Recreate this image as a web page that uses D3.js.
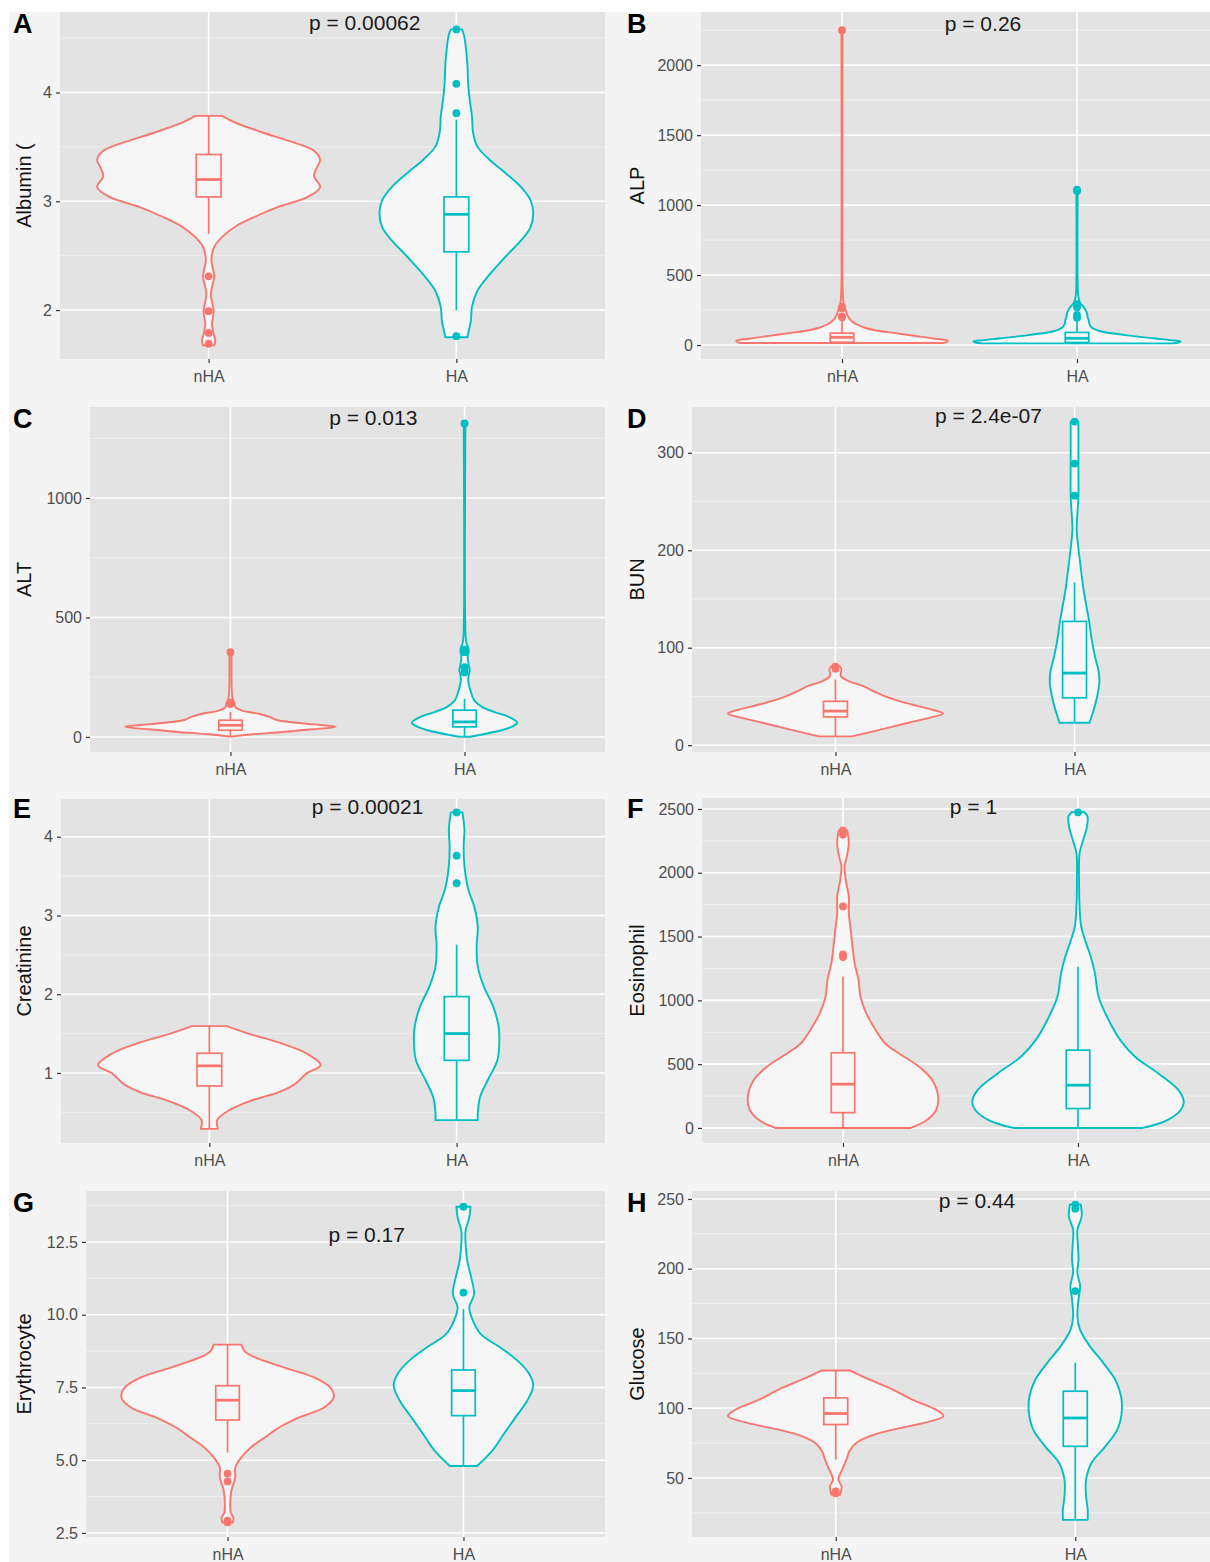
<!DOCTYPE html>
<html>
<head>
<meta charset="utf-8">
<script src="https://cdn.jsdelivr.net/npm/d3@7"></script>
<style>
  body { margin: 0; background: #fff; }
  text { font-family: "Liberation Sans", Arial, sans-serif; }
</style>
</head>
<body>
<svg id="chart" width="1210" height="1562"></svg>
<script>
// ---- data ----
var groups = ["nHA", "HA"];
var groupColors = ["#F8766D", "#00BFC4"];
var panelLetters = ["A", "B", "C", "D", "E", "F", "G", "H"];
var yTitles = ["Albumin (", "ALP", "ALT", "BUN", "Creatinine", "Eosinophil", "Erythrocyte", "Glucose"];
var pLabels = ["p = 0.00062", "p = 0.26", "p = 0.013", "p = 2.4e-07", "p = 0.00021", "p = 1", "p = 0.17", "p = 0.44"];
var pLabelX = [1.63, 1.60, 1.61, 1.64, 1.64, 1.555, 1.59, 1.59];
var pLabelY = [4.64, 2300, 1339, 338, 4.39, 2520, 12.74, 249];
var yDomains = [[1.55, 4.74], [-100, 2380], [-63, 1381], [-7, 347], [0.11, 4.48], [-118, 2586], [2.36, 14.25], [7.7, 255.7]];
var yTicks = [[2, 3, 4], [0, 500, 1000, 1500, 2000], [0, 500, 1000], [0, 100, 200, 300], [1, 2, 3, 4],
              [0, 500, 1000, 1500, 2000, 2500], [2.5, 5, 7.5, 10, 12.5], [50, 100, 150, 200, 250]];
var tickDecimals = [0, 0, 0, 0, 0, 0, 1, 0];

// box stats: [lower whisker, q1, median, q3, upper whisker]
var boxNHA = [[2.70, 3.04, 3.20, 3.43, 3.785], [12, 20, 55, 85, 180], [5, 28, 49, 70, 105], [9, 29, 35, 45, 67.5],
              [0.29, 0.835, 1.09, 1.25, 1.6], [0, 120, 343, 589, 1186], [5.26, 6.38, 7.06, 7.56, 8.97], [63.2, 88.3, 96.2, 107.4, 127]];
var boxHA = [[2.0, 2.535, 2.88, 3.04, 3.75], [12, 18, 48, 90, 180], [1, 42, 63, 112, 160], [23, 48.6, 74, 127, 167],
             [0.40, 1.16, 1.50, 1.97, 2.63], [0, 152, 335, 610, 1264], [4.80, 6.53, 7.39, 8.1, 10.19], [20, 72.7, 93, 112.2, 132.5]];
var outliersNHA = [[2.31, 1.99, 1.79, 1.69], [2250, 272, 262, 205, 198], [355, 145, 138], [80.5, 78.5],
                   [], [2332, 2300, 1736, 1361, 1340], [4.54, 4.27, 2.92, 2.86], [40.4, 39]];
var outliersHA = [[4.58, 4.08, 3.81, 1.76], [1110, 1100, 292, 280, 270, 215, 195], [1312, 365, 355, 292, 280, 270], [332, 289, 256],
                  [4.31, 3.76, 3.41], [2474], [13.71, 10.76], [246, 243, 184]];

// violin outlines: [value, relative half width]
var violinNHA = [
  [[1.675,0.05],[1.72,0.06],[1.78,0.045],[1.87,0.03],[1.99,0.045],[2.15,0.02],[2.31,0.05],[2.46,0.025],[2.58,0.05],[2.67,0.12],[2.77,0.245],[2.86,0.42],[2.95,0.63],[3.04,0.89],[3.13,1.0],[3.23,0.945],[3.31,0.97],[3.38,1.0],[3.46,0.95],[3.55,0.735],[3.63,0.49],[3.72,0.245],[3.785,0.12]],
  [[14,0.95],[22,0.99],[31,1.0],[45,0.88],[60,0.74],[83,0.52],[107,0.3],[125,0.21],[143,0.15],[160,0.11],[179,0.08],[200,0.06],[226,0.044],[260,0.03],[300,0.015],[400,0.006],[700,0.004],[1500,0.004],[2250,0.005]],
  [[2,0.02],[10,0.19],[21,0.49],[32,0.78],[43,1.0],[50,0.86],[56,0.7],[70,0.45],[84,0.37],[98,0.26],[109,0.12],[126,0.045],[140,0.04],[160,0.02],[200,0.012],[280,0.01],[355,0.01]],
  [[9,0.155],[16,0.42],[23,0.68],[28,0.87],[32.5,1.0],[37,0.88],[42,0.7],[48.6,0.5],[55,0.36],[60.6,0.26],[65.8,0.12],[71,0.05],[78,0.055],[81,0.04]],
  [[0.29,0.077],[0.40,0.07],[0.52,0.17],[0.65,0.38],[0.76,0.63],[0.86,0.77],[0.99,0.87],[1.10,1.0],[1.25,0.87],[1.37,0.66],[1.50,0.35],[1.595,0.157]],
  [[0,0.64],[60,0.79],[139,0.88],[243,0.9],[374,0.845],[479,0.72],[584,0.53],[662,0.40],[793,0.29],[898,0.22],[1029,0.165],[1160,0.147],[1290,0.11],[1421,0.09],[1552,0.073],[1683,0.055],[1814,0.055],[1945,0.026],[2050,0.015],[2128,0.037],[2233,0.055],[2332,0.04]],
  [[2.86,0.05],[3.03,0.055],[3.2,0.03],[3.49,0.025],[3.95,0.036],[4.41,0.073],[4.75,0.073],[5.09,0.128],[5.44,0.22],[5.78,0.35],[6.13,0.49],[6.47,0.675],[6.81,0.91],[7.16,1.0],[7.5,0.967],[7.84,0.82],[8.19,0.53],[8.53,0.26],[8.75,0.16],[8.97,0.13]],
  [[38,0.04],[44,0.054],[48.8,0.025],[56,0.06],[63.2,0.1],[69.1,0.126],[75.1,0.19],[79.9,0.31],[84.7,0.53],[89.5,0.82],[94.3,1.0],[99,0.93],[106.2,0.71],[113.4,0.53],[120.6,0.31],[127,0.135]]
];
var violinHA = [
  [[1.75,0.1],[1.78,0.105],[1.90,0.13],[2.03,0.14],[2.18,0.19],[2.33,0.3],[2.49,0.44],[2.64,0.58],[2.76,0.665],[2.89,0.69],[3.01,0.665],[3.13,0.58],[3.26,0.44],[3.38,0.3],[3.50,0.19],[3.63,0.15],[3.78,0.14],[3.93,0.12],[4.09,0.105],[4.24,0.1],[4.39,0.0875],[4.52,0.07],[4.58,0.05]],
  [[12,0.9],[18,0.96],[25,0.98],[35,0.88],[48,0.72],[71,0.46],[95,0.24],[115,0.16],[131,0.13],[155,0.115],[179,0.11],[200,0.1],[226,0.095],[250,0.08],[274,0.06],[300,0.03],[350,0.012],[450,0.006],[800,0.005],[1110,0.006]],
  [[1,0.05],[7,0.13],[28,0.35],[45,0.46],[60,0.5],[72,0.47],[84,0.42],[105,0.28],[126,0.165],[154,0.09],[196,0.055],[237,0.035],[260,0.04],[280,0.05],[300,0.04],[335,0.03],[363,0.04],[400,0.015],[500,0.006],[1000,0.005],[1312,0.008]],
  [[23,0.14],[30,0.16],[37,0.18],[50,0.21],[64,0.23],[75,0.225],[91,0.19],[108,0.16],[126,0.137],[143,0.11],[160,0.083],[180,0.06],[200,0.038],[221,0.02],[240,0.028],[256,0.036],[290,0.036],[332,0.036]],
  [[0.40,0.19],[0.48,0.19],[0.69,0.21],[0.91,0.28],[1.16,0.366],[1.42,0.384],[1.59,0.377],[1.84,0.33],[2.10,0.244],[2.35,0.19],[2.61,0.18],[2.86,0.19],[3.12,0.157],[3.33,0.105],[3.63,0.07],[3.88,0.063],[4.09,0.07],[4.31,0.052]],
  [[0,0.61],[60,0.84],[139,0.97],[204,1.0],[296,0.95],[427,0.76],[558,0.54],[688,0.40],[846,0.29],[1029,0.195],[1212,0.16],[1343,0.12],[1474,0.066],[1579,0.03],[1736,0.015],[1945,0.01],[2154,0.015],[2259,0.05],[2364,0.085],[2442,0.09],[2474,0.06]],
  [[4.80,0.128],[5.32,0.27],[5.90,0.38],[6.47,0.49],[7.04,0.6],[7.56,0.657],[7.96,0.62],[8.42,0.51],[8.87,0.347],[9.33,0.164],[9.79,0.09],[10.25,0.055],[10.71,0.1],[11.28,0.073],[11.85,0.036],[12.44,0.02],[12.88,0.02],[13.34,0.055],[13.71,0.066]],
  [[20,0.115],[27.3,0.115],[36.8,0.1],[48.8,0.1],[60.8,0.15],[72.7,0.28],[84.7,0.39],[96.7,0.43],[108.6,0.425],[120.6,0.37],[132.5,0.26],[144.5,0.135],[156.5,0.043],[166,0.02],[178,0.03],[187.6,0.045],[197,0.02],[206.7,0.03],[216,0.025],[228,0.02],[237.6,0.06],[246,0.05]]
];

// ---- layout ----
var frames = [
  {x: 60, y: 12, w: 545, h: 347},
  {x: 701, y: 12, w: 517, h: 347},
  {x: 90, y: 407, w: 515, h: 345},
  {x: 692, y: 407, w: 526, h: 345},
  {x: 61, y: 799, w: 544, h: 344},
  {x: 702, y: 798, w: 517, h: 345},
  {x: 86, y: 1191, w: 519, h: 346},
  {x: 692, y: 1191, w: 527, h: 346}
];
var letterBase = [33, 428, 818, 1212];

var svg = d3.select("#chart");
svg.append("rect").attr("width", 1210).attr("height", 1562).attr("fill", "#ffffff");
svg.append("rect").attr("x", 9).attr("y", 12).attr("width", 1201).attr("height", 1550).attr("fill", "#F4F4F4");

var violins = [violinNHA, violinHA];
var boxes = [boxNHA, boxHA];
var outliers = [outliersNHA, outliersHA];

panelLetters.forEach(function (letter, i) {
    var f = frames[i];
    var col = i % 2, row = Math.floor(i / 2);
    var x = d3.scaleLinear().domain([0.4, 2.6]).range([f.x, f.x + f.w]);
    var y = d3.scaleLinear().domain(yDomains[i]).range([f.y + f.h, f.y]);
    var step = x(2) - x(1);
    var g = svg.append("g");

    g.append("rect").attr("x", f.x).attr("y", f.y).attr("width", f.w).attr("height", f.h).attr("fill", "#E3E3E3");

    // grid
    var ticks = yTicks[i];
    var tstep = ticks[1] - ticks[0];
    var minors = [];
    for (var v = ticks[0] - tstep / 2; v <= ticks[ticks.length - 1] + tstep; v += tstep) {
        if (v >= yDomains[i][0] && v <= yDomains[i][1]) minors.push(v);
    }
    g.selectAll(".minor").data(minors).enter().append("line")
        .attr("x1", f.x).attr("x2", f.x + f.w)
        .attr("y1", function (d) { return y(d); }).attr("y2", function (d) { return y(d); })
        .attr("stroke", "#F2F2F2").attr("stroke-width", 0.8);
    g.selectAll(".major").data(ticks).enter().append("line")
        .attr("x1", f.x).attr("x2", f.x + f.w)
        .attr("y1", function (d) { return y(d); }).attr("y2", function (d) { return y(d); })
        .attr("stroke", "#ffffff").attr("stroke-width", 1.6);
    g.selectAll(".vmajor").data([1, 2]).enter().append("line")
        .attr("x1", function (d) { return x(d); }).attr("x2", function (d) { return x(d); })
        .attr("y1", f.y).attr("y2", f.y + f.h)
        .attr("stroke", "#ffffff").attr("stroke-width", 1.6);

    // axes
    var fmt = d3.format("." + tickDecimals[i] + "f");
    var ya = g.append("g").attr("transform", "translate(" + f.x + ",0)")
        .call(d3.axisLeft(y).tickValues(ticks).tickFormat(fmt).tickSize(4).tickPadding(4));
    var xa = g.append("g").attr("transform", "translate(0," + (f.y + f.h) + ")")
        .call(d3.axisBottom(x).tickValues([1, 2]).tickFormat(function (d) { return groups[d - 1]; }).tickSize(4).tickPadding(8));
    [ya, xa].forEach(function (a) {
        a.select(".domain").remove();
        a.selectAll(".tick line").attr("stroke", "#333333").attr("stroke-width", 1.2);
        a.selectAll(".tick text").attr("fill", "#4D4D4D").attr("font-size", "16px")
            .attr("font-family", "Liberation Sans, Arial, sans-serif");
    });

    // violins + boxplots
    groups.forEach(function (grp, k) {
        var cx = x(k + 1);
        var half = 0.45 * step;
        var area = d3.area()
            .curve(d3.curveCatmullRom.alpha(0.5))
            .y(function (d) { return y(d[0]); })
            .x0(function (d) { return cx - d[1] * half; })
            .x1(function (d) { return cx + d[1] * half; });
        g.append("path").datum(violins[k][i])
            .attr("d", area)
            .attr("fill", "#F6F6F6")
            .attr("stroke", groupColors[k])
            .attr("stroke-width", 1.9)
            .attr("stroke-linejoin", "round");

        var b = boxes[k][i];
        var bw = 0.05 * step;
        g.append("line").attr("x1", cx).attr("x2", cx).attr("y1", y(b[0])).attr("y2", y(b[1]))
            .attr("stroke", groupColors[k]).attr("stroke-width", 1.7);
        g.append("line").attr("x1", cx).attr("x2", cx).attr("y1", y(b[3])).attr("y2", y(b[4]))
            .attr("stroke", groupColors[k]).attr("stroke-width", 1.7);
        g.append("rect").attr("x", cx - bw).attr("width", 2 * bw)
            .attr("y", y(b[3])).attr("height", y(b[1]) - y(b[3]))
            .attr("fill", "#F6F6F6").attr("stroke", groupColors[k]).attr("stroke-width", 1.7);
        g.append("line").attr("x1", cx - bw).attr("x2", cx + bw).attr("y1", y(b[2])).attr("y2", y(b[2]))
            .attr("stroke", groupColors[k]).attr("stroke-width", 2.8);

        g.selectAll(".out" + k).data(outliers[k][i]).enter().append("circle")
            .attr("cx", cx).attr("cy", function (d) { return y(d); })
            .attr("r", 3.9).attr("fill", groupColors[k]);
    });

    // p value
    g.append("text").attr("x", x(pLabelX[i])).attr("y", y(pLabelY[i]))
        .attr("text-anchor", "middle").attr("dominant-baseline", "central")
        .attr("font-size", "21px").attr("fill", "#1a1a1a").text(pLabels[i]);

    // y title
    var tx = col === 0 ? 24 : 637;
    var ty = f.y + f.h / 2;
    g.append("text").attr("transform", "translate(" + tx + "," + ty + ") rotate(-90)")
        .attr("text-anchor", "middle").attr("dominant-baseline", "central")
        .attr("font-size", "20px").attr("fill", "#111111").text(yTitles[i]);

    // panel letter
    g.append("text").attr("x", col === 0 ? 13 : 627).attr("y", letterBase[row])
        .attr("font-size", "27px").attr("font-weight", "bold").attr("fill", "#000000").text(letter);
});
</script>
</body>
</html>
